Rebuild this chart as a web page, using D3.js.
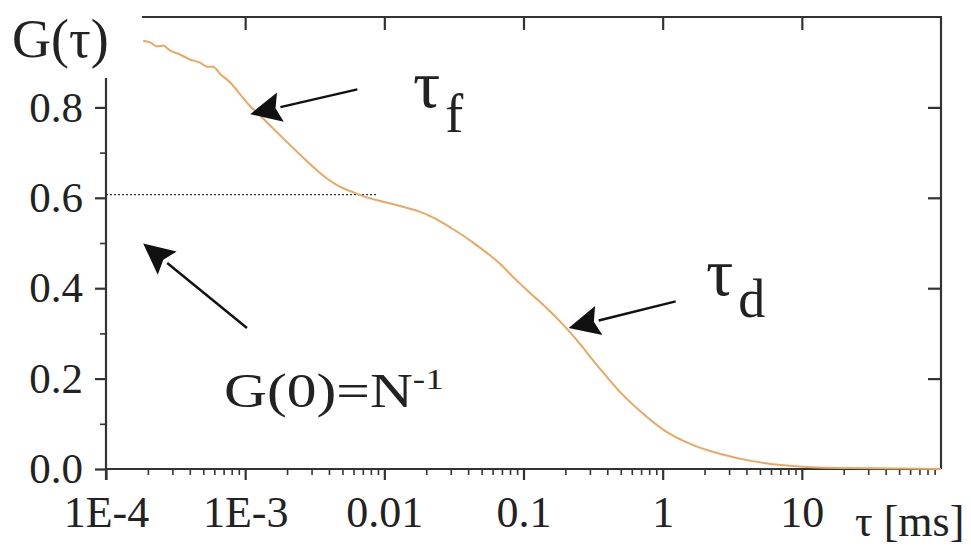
<!DOCTYPE html>
<html>
<head>
<meta charset="utf-8">
<script src="https://cdn.jsdelivr.net/npm/d3@7"></script>
<style>
  body { margin: 0; background: #fff; }
  text { font-family: "Liberation Serif", "DejaVu Serif", serif; fill: #222; }
</style>
</head>
<body>
<svg id="chart"></svg>
<script>
// correlation curve
const tau = [1.85e-4, 2.07e-4, 2.33e-4, 2.57e-4, 2.88e-4, 3.40e-4, 4.02e-4, 4.74e-4, 5.33e-4, 5.89e-4,
    6.61e-4, 7.80e-4, 9.20e-4, 1.09e-3, 1.28e-3, 1.51e-3, 1.94e-3, 2.49e-3, 3.19e-3, 3.89e-3,
    4.82e-3, 5.89e-3, 7.29e-3, 9.35e-3, 0.0130, 0.0173, 0.0233, 0.0299, 0.0370, 0.0452,
    0.0551, 0.0684, 0.0847, 0.112, 0.149, 0.185, 0.218, 0.257, 0.313, 0.389,
    0.499, 0.695, 1.02, 1.59, 2.61, 4.30, 7.06, 11.6, 22.5, 51.5, 100];
const G = [0.947, 0.944, 0.935, 0.937, 0.926, 0.917, 0.906, 0.899, 0.890, 0.890,
    0.874, 0.855, 0.829, 0.802, 0.782, 0.760, 0.727, 0.695, 0.664, 0.642,
    0.624, 0.613, 0.602, 0.593, 0.582, 0.571, 0.554, 0.534, 0.516, 0.497,
    0.477, 0.453, 0.424, 0.389, 0.354, 0.325, 0.301, 0.275, 0.242, 0.207,
    0.169, 0.127, 0.086, 0.055, 0.033, 0.018, 0.009, 0.004, 0.002, 0.001, 0.0];

const xTicks = [1e-4, 1e-3, 0.01, 0.1, 1, 10];
const xTickLabels = ["1E-4", "1E-3", "0.01", "0.1", "1", "10"];
const yTicks = [0.0, 0.2, 0.4, 0.6, 0.8];
const yMinor = [0.1, 0.3, 0.5, 0.7];

const g0 = 0.607;            // G(0) level
const g0End = 9.0e-3;        // dotted line ends here

// arrows: [tailTau, tailG, tipTau, tipG]
const arrows = [
    [6.40e-3, 0.840, 1.087e-3, 0.785],
    [1.03e-3, 0.312, 1.85e-4, 0.499],
    [1.24, 0.371, 0.211, 0.312]
];

function draw_chart() {
    let width = 971;
    let height = 546;
    let left = 106, right = 941, top = 17, bottom = 469;

    let svg = d3.select("#chart")
        .attr("width", width)
        .attr("height", height);

    let x = d3.scaleLog().domain([1e-4, 100]).range([left, right]);
    let y = d3.scaleLinear().domain([0, 1]).range([bottom, top]);

    let minorX = [];
    for (let e = -4; e < 2; e++) {
        for (let m = 2; m <= 9; m++) minorX.push(m * Math.pow(10, e));
    }

    // minor ticks bottom
    svg.append("g")
        .attr("transform", "translate(0," + bottom + ")")
        .call(d3.axisBottom(x).tickValues(minorX).tickSize(6).tickFormat(""))
        .call(a => a.select(".domain").remove())
        .selectAll("line").attr("stroke", "#333").attr("stroke-width", 1.6);

    // major ticks bottom
    let xAxis = svg.append("g")
        .attr("transform", "translate(0," + bottom + ")")
        .call(d3.axisBottom(x).tickValues(xTicks).tickSize(11).tickPadding(16)
            .tickFormat((d, i) => xTickLabels[i]));
    xAxis.select(".domain").remove();
    xAxis.selectAll("line").attr("stroke", "#333").attr("stroke-width", 2.2);
    xAxis.selectAll("text").attr("font-size", 44).attr("fill", "#222")
        .attr("font-family", "Liberation Serif");

    // left axis
    svg.append("g")
        .attr("transform", "translate(" + left + ",0)")
        .call(d3.axisLeft(y).tickValues(yMinor).tickSize(6).tickFormat(""))
        .call(a => a.select(".domain").remove())
        .selectAll("line").attr("stroke", "#333").attr("stroke-width", 1.6);

    let yAxis = svg.append("g")
        .attr("transform", "translate(" + left + ",0)")
        .call(d3.axisLeft(y).tickValues(yTicks).tickSize(11).tickPadding(12)
            .tickFormat(d3.format(".1f")));
    yAxis.select(".domain").remove();
    yAxis.selectAll("line").attr("stroke", "#333").attr("stroke-width", 2.2);
    yAxis.selectAll("text").attr("font-size", 43).attr("fill", "#222")
        .attr("font-family", "Liberation Serif").attr("dy", "0.32em");

    // top and right, ticks inward
    let topAxis = svg.append("g")
        .attr("transform", "translate(0," + top + ")")
        .call(d3.axisTop(x).tickValues(xTicks.slice(1)).tickSize(-13).tickFormat(""));
    topAxis.select(".domain").remove();
    topAxis.selectAll("line").attr("stroke", "#333").attr("stroke-width", 2.2);

    let rightAxis = svg.append("g")
        .attr("transform", "translate(" + right + ",0)")
        .call(d3.axisRight(y).tickValues(yTicks.slice(1)).tickSize(-13).tickFormat(""));
    rightAxis.select(".domain").remove();
    rightAxis.selectAll("line").attr("stroke", "#333").attr("stroke-width", 2.2);

    // frame lines
    let frame = svg.append("g").attr("stroke", "#333").attr("stroke-width", 2.2).attr("fill", "none");
    frame.append("line").attr("x1", left).attr("x2", right).attr("y1", bottom).attr("y2", bottom);
    frame.append("line").attr("x1", left).attr("x2", left).attr("y1", 78).attr("y2", bottom + 11);
    frame.append("line").attr("x1", 142).attr("x2", right + 1).attr("y1", top).attr("y2", top);
    frame.append("line").attr("x1", right).attr("x2", right).attr("y1", top).attr("y2", bottom);

    // dotted G(0) line
    svg.append("line")
        .attr("x1", x(1e-4)).attr("x2", x(g0End))
        .attr("y1", y(g0)).attr("y2", y(g0))
        .attr("stroke", "#333").attr("stroke-width", 1.3)
        .attr("stroke-dasharray", "2,2");

    // curve
    let line = d3.line()
        .x((d, i) => x(tau[i]))
        .y(d => y(d))
        .curve(d3.curveMonotoneX);

    svg.append("path")
        .datum(G)
        .attr("d", line)
        .attr("fill", "none")
        .attr("stroke", "#e8a862")
        .attr("stroke-width", 2);

    // arrows
    arrows.forEach(function (a) {
        let x1 = x(a[0]), y1 = y(a[1]), x2 = x(a[2]), y2 = y(a[3]);
        let ang = Math.atan2(y2 - y1, x2 - x1);
        let hl = 31, hw = 15;
        let bx = x2 - hl * Math.cos(ang), by = y2 - hl * Math.sin(ang);
        svg.append("line")
            .attr("x1", x1).attr("y1", y1).attr("x2", bx).attr("y2", by)
            .attr("stroke", "#111").attr("stroke-width", 2.4);
        let pts = [
            [x2, y2],
            [bx + hw * Math.sin(ang), by - hw * Math.cos(ang)],
            [bx + 5 * Math.cos(ang), by + 5 * Math.sin(ang)],
            [bx - hw * Math.sin(ang), by + hw * Math.cos(ang)]
        ];
        svg.append("polygon")
            .attr("points", pts.map(p => p.join(",")).join(" "))
            .attr("fill", "#111");
    });

    // labels
    svg.append("text").attr("x", 12).attr("y", 57).attr("font-size", 54).text("G(τ)");

    let tf = svg.append("text").attr("x", 413).attr("y", 107);
    tf.append("tspan").attr("font-size", 68).text("τ");
    tf.append("tspan").attr("font-size", 54).attr("dx", 5).attr("dy", 25).text("f");

    let td = svg.append("text").attr("x", 706).attr("y", 295);
    td.append("tspan").attr("font-size", 68).text("τ");
    td.append("tspan").attr("font-size", 54).attr("dx", 5).attr("dy", 22).text("d");

    let gl = svg.append("text")
        .attr("transform", "translate(224,407) scale(1.24,1)")
        .attr("font-size", 48);
    gl.append("tspan").text("G(0)=N");
    gl.append("tspan").attr("font-size", 30).attr("dy", -18).text("-1");

    svg.append("text").attr("x", 855).attr("y", 536).attr("font-size", 44)
        .text("τ [ms]");
}

draw_chart();
</script>
</body>
</html>
